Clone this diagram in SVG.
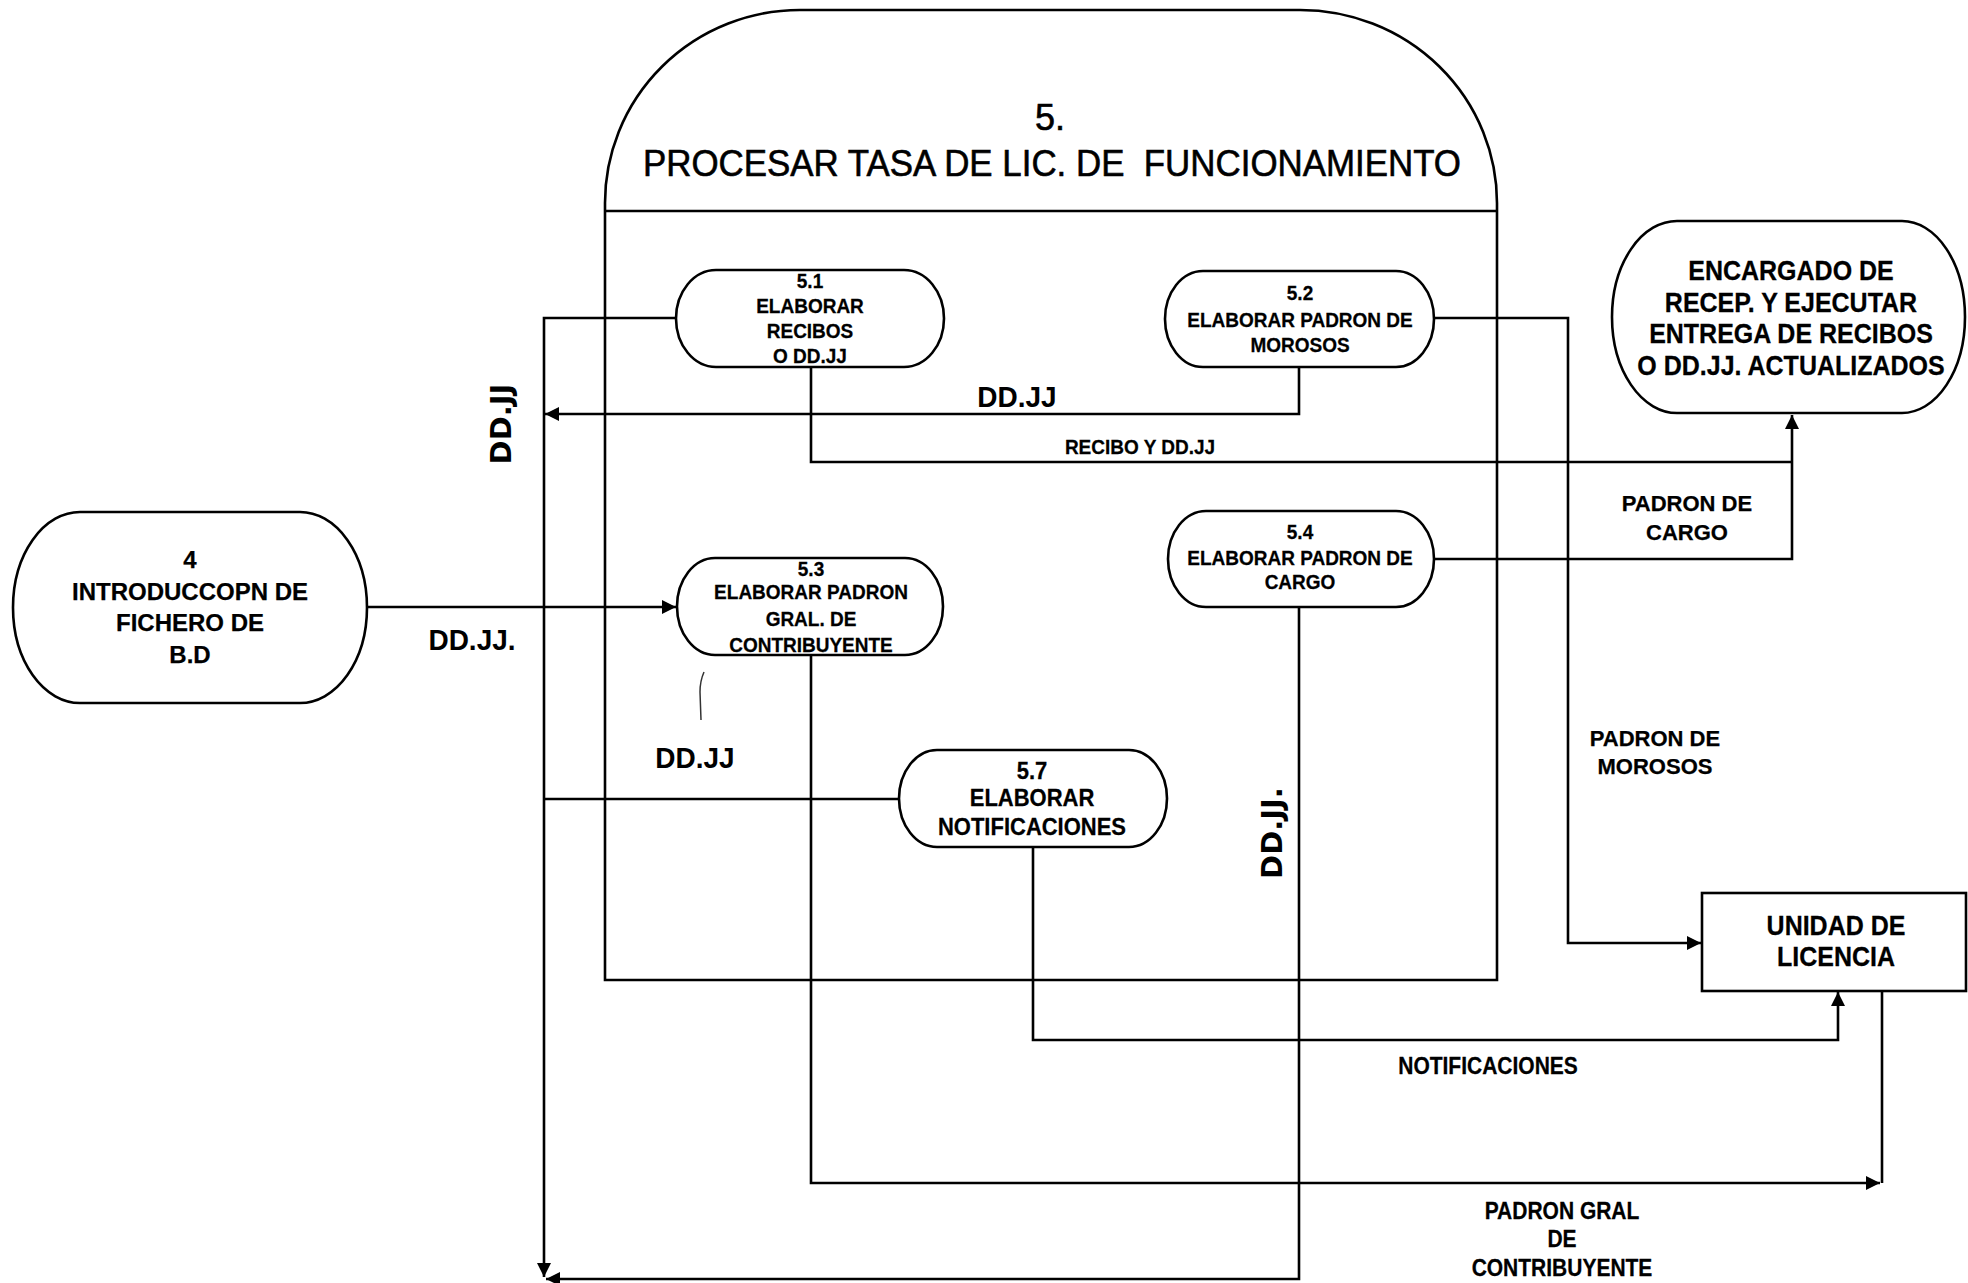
<svg xmlns="http://www.w3.org/2000/svg" width="1968" height="1283" viewBox="0 0 1968 1283">
<defs>
<style>
.bg{fill:#ffffff}
.shape{fill:none;stroke:#000;stroke-width:2.6}
.node{fill:#fff;stroke:#000;stroke-width:2.6}
.ln{fill:none;stroke:#000;stroke-width:2.6}
text{font-family:"Liberation Sans",Arial,sans-serif;fill:#000;text-anchor:middle}
.title{font-size:36px;stroke:#000;stroke-width:0.6}
.p{font-size:19px;font-weight:bold;stroke:#000;stroke-width:0.25}
.p7{font-size:22px;font-weight:bold;stroke:#000;stroke-width:0.25}
.t4{font-size:24px;font-weight:bold;stroke:#000;stroke-width:0.25}
.ext{font-size:25px;font-weight:bold;stroke:#000;stroke-width:0.25}
.lbl{font-size:22px;font-weight:bold;stroke:#000;stroke-width:0.25}
.lbs{font-size:19px;font-weight:bold;stroke:#000;stroke-width:0.25}
.lbm{font-size:21px;font-weight:bold;stroke:#000;stroke-width:0.25}
.big{font-size:28px;font-weight:bold}
.rot{font-family:"DejaVu Sans",sans-serif;font-size:29px;font-weight:bold}
</style>
<marker id="ah" viewBox="0 0 10 10" refX="10" refY="5" markerWidth="18" markerHeight="14" markerUnits="userSpaceOnUse" orient="auto">
<path d="M0,0 L10,5 L0,10 z" fill="#000"/>
</marker>
</defs>
<rect class="bg" x="0" y="0" width="1968" height="1283"/>

<g id="container">
<path class="shape" d="M605,980 V203 A195,193 0 0 1 800,10 H1300 A197,193 0 0 1 1497,203 V980 Z"/>
<line class="shape" x1="605" y1="211" x2="1497" y2="211"/>
<text class="title" x="1050" y="130">5.</text>
<text class="title" x="643" y="176" style="text-anchor:start;white-space:pre" textLength="818" lengthAdjust="spacingAndGlyphs">PROCESAR TASA DE LIC. DE  FUNCIONAMIENTO</text>
</g>

<g id="connectors">
<path class="ln" d="M677,318 H544 V1277" marker-end="url(#ah)"/>
<path class="ln" d="M1299,367 V414 H545" marker-end="url(#ah)"/>
<path class="ln" d="M899,799 H544"/>
<path class="ln" d="M1299,607 V1279 H546" marker-end="url(#ah)"/>
<path class="ln" d="M811,367 V462 H1792"/>
<path class="ln" d="M1434,559 H1792 V415" marker-end="url(#ah)"/>
<path class="ln" d="M1434,318 H1568 V943 H1701" marker-end="url(#ah)"/>
<path class="ln" d="M811,655 V1183 H1880" marker-end="url(#ah)"/>
<path class="ln" d="M1882,991 V1183"/>
<path class="ln" d="M1033,847 V1040 H1838 V992" marker-end="url(#ah)"/>
<path class="ln" d="M367,607 H676" marker-end="url(#ah)"/>
<path d="M704,672 Q700,681 700,692 L701,720" fill="none" stroke="#333" stroke-width="1.5"/>
</g>

<g id="labels">
<text class="rot" transform="translate(511,424) rotate(-90)">DD.JJ</text>
<text class="rot" transform="translate(1282,833) rotate(-90)">DD.JJ.</text>
<text class="big" transform="matrix(1,0,0,1.05,1017,407)">DD.JJ</text>
<text class="lbs" transform="matrix(1,0,0,1.08,1140,454)">RECIBO Y DD.JJ</text>
<text class="big" transform="matrix(1,0,0,1.05,472,650)">DD.JJ.</text>
<text class="big" transform="matrix(1,0,0,1.05,695,768)">DD.JJ</text>
<text class="lbl" x="1687" y="511">PADRON DE</text>
<text class="lbl" x="1687" y="540">CARGO</text>
<text class="lbl" x="1655" y="746">PADRON DE</text>
<text class="lbl" x="1655" y="774">MOROSOS</text>
<text class="lbm" transform="matrix(1,0,0,1.12,1488,1074)">NOTIFICACIONES</text>
<text class="lbm" transform="matrix(1,0,0,1.12,1562,1219)">PADRON GRAL</text>
<text class="lbm" transform="matrix(1,0,0,1.12,1562,1247)">DE</text>
<text class="lbm" transform="matrix(1,0,0,1.12,1562,1276)">CONTRIBUYENTE</text>
</g>

<g id="node4">
<path class="node" d="M80,512 H300 A67,95.5 0 0 1 300,703 H80 A67,95.5 0 0 1 80,512 Z"/>
<text class="t4" x="190" y="568">4</text>
<text class="t4" x="190" y="600">INTRODUCCOPN DE</text>
<text class="t4" x="190" y="631">FICHERO DE</text>
<text class="t4" x="190" y="663">B.D</text>
</g>

<g id="node51">
<path class="node" d="M716,270 H904 A40,48.5 0 0 1 904,367 H716 A40,48.5 0 0 1 716,270 Z"/>
<text class="p" transform="matrix(1,0,0,1.05,810,288)">5.1</text>
<text class="p" transform="matrix(1,0,0,1.05,810,313)">ELABORAR</text>
<text class="p" transform="matrix(1,0,0,1.05,810,338)">RECIBOS</text>
<text class="p" transform="matrix(1,0,0,1.05,810,363)">O DD.JJ</text>
</g>

<g id="node52">
<path class="node" d="M1203,271 H1396 A38,48 0 0 1 1396,367 H1203 A38,48 0 0 1 1203,271 Z"/>
<text class="p" transform="matrix(1,0,0,1.05,1300,300)">5.2</text>
<text class="p" transform="matrix(1,0,0,1.05,1300,327)">ELABORAR PADRON DE</text>
<text class="p" transform="matrix(1,0,0,1.05,1300,352)">MOROSOS</text>
</g>

<g id="node53">
<path class="node" d="M715,558 H905 A38,48.5 0 0 1 905,655 H715 A38,48.5 0 0 1 715,558 Z"/>
<text class="p" transform="matrix(1,0,0,1.05,811,576)">5.3</text>
<text class="p" transform="matrix(1,0,0,1.05,811,599)">ELABORAR PADRON</text>
<text class="p" transform="matrix(1,0,0,1.05,811,626)">GRAL. DE</text>
<text class="p" transform="matrix(1,0,0,1.05,811,652)">CONTRIBUYENTE</text>
</g>

<g id="node54">
<path class="node" d="M1206,511 H1396 A38,48 0 0 1 1396,607 H1206 A38,48 0 0 1 1206,511 Z"/>
<text class="p" transform="matrix(1,0,0,1.05,1300,539)">5.4</text>
<text class="p" transform="matrix(1,0,0,1.05,1300,565)">ELABORAR PADRON DE</text>
<text class="p" transform="matrix(1,0,0,1.05,1300,589)">CARGO</text>
</g>

<g id="node57">
<path class="node" d="M937,750 H1129 A38,48.5 0 0 1 1129,847 H937 A38,48.5 0 0 1 937,750 Z"/>
<text class="p7" transform="matrix(1,0,0,1.08,1032,779)">5.7</text>
<text class="p7" transform="matrix(1,0,0,1.08,1032,806)">ELABORAR</text>
<text class="p7" transform="matrix(1,0,0,1.08,1032,835)">NOTIFICACIONES</text>
</g>

<g id="encargado">
<path class="node" d="M1677,221 H1902 A63,96 0 0 1 1902,413 H1677 A65,96 0 0 1 1677,221 Z"/>
<text class="ext" transform="matrix(1,0,0,1.12,1791,280)">ENCARGADO DE</text>
<text class="ext" transform="matrix(1,0,0,1.12,1791,312)">RECEP. Y EJECUTAR</text>
<text class="ext" transform="matrix(1,0,0,1.12,1791,343)">ENTREGA DE RECIBOS</text>
<text class="ext" transform="matrix(1,0,0,1.12,1791,375)">O DD.JJ. ACTUALIZADOS</text>
</g>

<g id="unidad">
<rect class="node" x="1702" y="893" width="264" height="98"/>
<text class="ext" transform="matrix(1,0,0,1.12,1836,935)">UNIDAD DE</text>
<text class="ext" transform="matrix(1,0,0,1.12,1836,966)">LICENCIA</text>
</g>
</svg>
